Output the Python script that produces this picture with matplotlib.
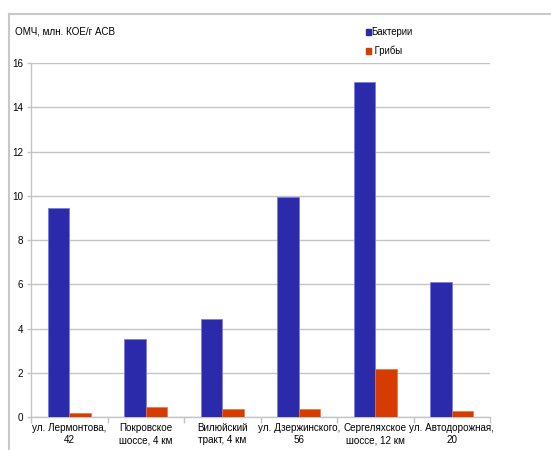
import matplotlib
matplotlib.use("Agg")
import matplotlib.pyplot as plt
from matplotlib.lines import Line2D
from matplotlib.patches import Rectangle
import numpy as np

plt.rcParams['font.family'] = ['Liberation Sans', 'DejaVu Sans']

sites = ["ул. Лермонтова,\n42", "Покровское\nшоссе, 4 км", "Вилюйский\nтракт, 4 км",
         "ул. Дзержинского,\n56", "Сергеляхское\nшоссе, 12 км", "ул. Автодорожная,\n20"]
bacteria = [9.45, 3.55, 4.45, 9.95, 15.12, 6.12]
fungi = [0.18, 0.47, 0.37, 0.37, 2.17, 0.30]
series_names = ["Бактерии", " Грибы"]
yticks = [0, 2, 4, 6, 8, 10, 12, 14, 16]
ylabel = "ОМЧ, млн. КОЕ/г АСВ"

blue = "#2B2AAA"
orange = "#D63C00"
grid_c = "#C4C4C4"
fs = 7.1

W, H = 551, 450
fig = plt.figure(figsize=(W / 100, H / 100), dpi=100)
ax = fig.add_axes([31 / W, (H - 417.3) / H, 459 / W, 354.3 / H])

x = np.arange(len(sites))
bw = 0.284
ax.bar(x - bw / 2, bacteria, bw, color=blue, edgecolor="#7B7BE0", linewidth=0.6, zorder=3)
ax.bar(x + bw / 2, fungi, bw, color=orange, edgecolor="#F07040", linewidth=0.5, zorder=3)

ax.set_xlim(-0.5, len(sites) - 0.5)
ax.set_ylim(0, 16)
ax.set_yticks(yticks)
ax.set_yticklabels([str(v) for v in yticks], fontsize=fs)
ax.yaxis.grid(True, color=grid_c, linewidth=1.0, zorder=0)
ax.set_axisbelow(True)

ax.set_xticks(np.arange(len(sites) + 1) - 0.5, minor=False)
ax.set_xticklabels([])
ax.set_xticks(x, minor=True)
ax.set_xticklabels(sites, minor=True, fontsize=fs, linespacing=1.3)
ax.tick_params(axis='x', which='minor', length=0, pad=4)
ax.tick_params(axis='x', which='major', length=4, color=grid_c, width=1)
ax.tick_params(axis='y', length=3, color=grid_c, width=1, pad=2.5)

for s in ["top", "right"]:
    ax.spines[s].set_visible(False)
for s in ["left", "bottom"]:
    ax.spines[s].set_color(grid_c)
    ax.spines[s].set_linewidth(1.0)

# outer frame (top and left edges)
fig.add_artist(Line2D([9 / W, 1.0], [(H - 13.5) / H] * 2, color="#C8C8C8", linewidth=1.5))
fig.add_artist(Line2D([9 / W] * 2, [0, (H - 13.5) / H], color="#C8C8C8", linewidth=1.5))

fig.text(15 / W, (H - 32) / H, ylabel, fontsize=fs, va="center", ha="left")

# legend
for i, (name, col) in enumerate(zip(series_names, [blue, orange])):
    yc = H - (32 + 19 * i)
    fig.add_artist(Rectangle((365.5 / W, (yc - 3) / H), 5 / W, 6 / H,
                             transform=fig.transFigure, color=col))
    fig.text(371.5 / W, yc / H, name, fontsize=fs - 0.2, va="center", ha="left")

fig.savefig("out.png", dpi=100)
